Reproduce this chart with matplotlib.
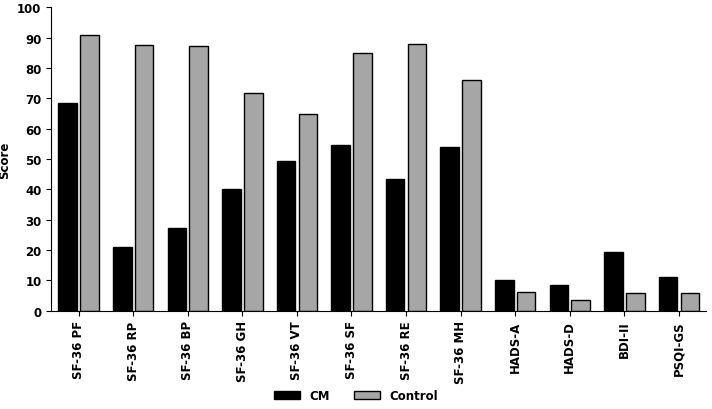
import numpy as np
import matplotlib.pyplot as plt

categories = ["SF-36 PF", "SF-36 RP", "SF-36 BP", "SF-36 GH", "SF-36 VT", "SF-36 SF",
              "SF-36 RE", "SF-36 MH", "HADS-A", "HADS-D", "BDI-II", "PSQI-GS"]
cm = [68.5, 21, 27.3, 40, 49.3, 54.5, 43.3, 54, 10, 8.3, 19.2, 11]
control = [90.8, 87.5, 87.3, 71.7, 64.7, 85, 88, 76, 6, 3.5, 5.7, 5.7]

fig = plt.figure(figsize=(7.12, 4.10), dpi=100)
ax = fig.add_axes([0.072, 0.24, 0.92, 0.74])
x = np.arange(len(categories))
w = 0.34
ax.bar(x - w / 2 - 0.03, cm, w, color="black", edgecolor="black", label="CM")
ax.bar(x + w / 2 + 0.03, control, w, color="#a6a6a6", edgecolor="black", label="Control")

ax.set_xlim(-0.5, len(categories) - 0.5)
ax.set_ylim(0, 100)
ax.set_yticks(range(0, 101, 10))
ax.set_xticks(x)
ax.set_xticklabels(categories, rotation=90, fontweight="bold", fontsize=8.5)
for t in ax.get_yticklabels():
    t.set_fontweight("bold")
    t.set_fontsize(8.5)
ax.set_ylabel("Score", fontweight="bold", fontsize=8.5)
ax.spines["top"].set_visible(False)
ax.spines["right"].set_visible(False)
fig.legend(*ax.get_legend_handles_labels(), loc="lower center", bbox_to_anchor=(0.5, -0.01),
           ncol=2, frameon=False, prop={"weight": "bold", "size": 8.5}, handlelength=2.2)

fig.savefig("out.png", dpi=100)
